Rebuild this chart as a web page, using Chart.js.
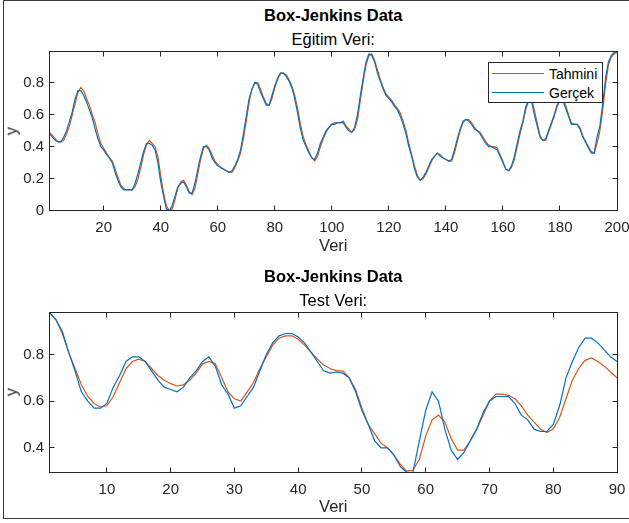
<!DOCTYPE html>
<html>
<head>
<meta charset="utf-8">
<script src="https://cdn.jsdelivr.net/npm/chart.js@4"></script>
<style>
  body { margin: 0; background: #fff; width: 629px; height: 523px; overflow: hidden; position: relative; font-family: "Liberation Sans", Arial, sans-serif; }
  .frame { position: absolute; left: 3px; top: 0; width: 700px; height: 519px; border: 1px solid #3a3a3a; border-right: none; box-sizing: border-box; }
  .panel { position: absolute; left: 0; width: 629px; height: 241px; }
  .txt { position: absolute; left: 49.5px; width: 567.5px; text-align: center; font-size: 16.5px; line-height: 1; white-space: nowrap; color: #000; }
  .bold { font-weight: bold; }
  .axlabel { color: #262626; }
  .ylab { position: absolute; font-size: 16.5px; line-height: 1; color: #262626; transform: rotate(-90deg); transform-origin: center; width: 20px; text-align: center; }
  .legend { position: absolute; left: 488px; top: 62px; width: 115px; height: 41px; border: 1px solid #262626; background: #fff; box-sizing: border-box; font-size: 14px; color: #000; }
  .legend .row { position: absolute; left: 0; height: 16px; width: 113px; }
  .legend .sw { position: absolute; left: 3px; top: 7px; width: 52px; height: 0; border-top: 1.2px solid; }
  .legend .lab { position: absolute; left: 60px; top: 0; line-height: 16px; }
</style>
</head>
<body>
<div class="frame"></div>

<div class="txt bold" style="top:6.5px">Box-Jenkins Data</div>
<div class="txt" style="top:31px">Eğitim Veri:</div>
<div class="panel" style="top:0"><canvas id="trainChart" width="629" height="241"></canvas></div>
<div class="txt axlabel" style="top:237px">Veri</div>
<div class="ylab" style="left:1px; top:123px">y</div>
<div class="legend">
  <div class="row" style="top:3px"><div class="sw" style="border-color:#D95319"></div><div class="lab">Tahmini</div></div>
  <div class="row" style="top:22px"><div class="sw" style="border-color:#0072BD"></div><div class="lab">Gerçek</div></div>
</div>

<div class="txt bold" style="top:267.5px">Box-Jenkins Data</div>
<div class="txt" style="top:292px">Test Veri:</div>
<div class="panel" style="top:262px"><canvas id="testChart" width="629" height="241"></canvas></div>
<div class="txt axlabel" style="top:498px">Veri</div>
<div class="ylab" style="left:1px; top:384px">y</div>

<script>
// Eğitim (training) data, x = 1..200
const trainX = Array.from({ length: 200 }, (_, i) => i + 1);
const trainTahmini = [
  0.49, 0.47, 0.45, 0.43,
  0.43, 0.44, 0.48, 0.53, 0.60, 0.67, 0.74, 0.77, 0.75, 0.70,
  0.66, 0.60, 0.55, 0.48, 0.42, 0.39, 0.36, 0.33, 0.31, 0.26,
  0.21, 0.16, 0.14, 0.13, 0.13, 0.13, 0.15, 0.20, 0.27, 0.35,
  0.41, 0.44, 0.42, 0.40, 0.34, 0.22, 0.11, 0.03, 0.00, 0.01,
  0.07, 0.14, 0.18, 0.19, 0.16, 0.12, 0.10, 0.14, 0.23, 0.32,
  0.39, 0.41, 0.39, 0.35, 0.31, 0.29, 0.27, 0.26, 0.25, 0.24,
  0.24, 0.27, 0.31, 0.36, 0.45, 0.56, 0.68, 0.76, 0.80, 0.80,
  0.76, 0.71, 0.67, 0.66, 0.70, 0.77, 0.82, 0.86, 0.86, 0.85,
  0.82, 0.78, 0.72, 0.64, 0.54, 0.46, 0.41, 0.37, 0.33, 0.31,
  0.34, 0.40, 0.45, 0.49, 0.52, 0.54, 0.55, 0.55, 0.55, 0.56,
  0.53, 0.51, 0.49, 0.51, 0.57, 0.69, 0.81, 0.91, 0.97, 0.98,
  0.94, 0.88, 0.82, 0.77, 0.73, 0.71, 0.69, 0.66, 0.64, 0.61,
  0.56, 0.50, 0.42, 0.35, 0.28, 0.22, 0.19, 0.20, 0.23, 0.27,
  0.31, 0.34, 0.36, 0.35, 0.33, 0.32, 0.31, 0.31, 0.36, 0.43,
  0.50, 0.55, 0.57, 0.57, 0.55, 0.52, 0.50, 0.49, 0.46, 0.43,
  0.41, 0.40, 0.40, 0.39, 0.35, 0.31, 0.26, 0.25, 0.27, 0.32,
  0.40, 0.48, 0.55, 0.63, 0.69, 0.70, 0.63, 0.55, 0.47, 0.44,
  0.44, 0.49, 0.54, 0.59, 0.65, 0.69, 0.70, 0.66, 0.60, 0.55,
  0.54, 0.54, 0.52, 0.47, 0.43, 0.40, 0.37, 0.36, 0.42, 0.50,
  0.63, 0.79, 0.91, 0.96, 0.98, 0.99
];
const trainGercek = [
  0.48, 0.46, 0.44, 0.43,
  0.43, 0.46, 0.50, 0.56, 0.62, 0.70, 0.75, 0.75, 0.72, 0.68,
  0.63, 0.58, 0.51, 0.45, 0.40, 0.38, 0.35, 0.33, 0.30, 0.24,
  0.19, 0.15, 0.13, 0.13, 0.13, 0.13, 0.17, 0.23, 0.30, 0.37,
  0.42, 0.42, 0.41, 0.38, 0.30, 0.18, 0.09, 0.01, 0.00, 0.03,
  0.09, 0.15, 0.17, 0.18, 0.15, 0.11, 0.11, 0.17, 0.26, 0.34,
  0.40, 0.40, 0.38, 0.33, 0.30, 0.28, 0.27, 0.26, 0.25, 0.24,
  0.25, 0.28, 0.32, 0.38, 0.48, 0.59, 0.70, 0.76, 0.80, 0.79,
  0.74, 0.70, 0.66, 0.66, 0.72, 0.78, 0.83, 0.86, 0.86, 0.84,
  0.81, 0.77, 0.70, 0.61, 0.51, 0.44, 0.40, 0.36, 0.33, 0.32,
  0.36, 0.42, 0.46, 0.50, 0.52, 0.54, 0.54, 0.55, 0.55, 0.55,
  0.52, 0.50, 0.49, 0.52, 0.60, 0.72, 0.83, 0.93, 0.98, 0.97,
  0.93, 0.86, 0.81, 0.76, 0.72, 0.70, 0.68, 0.65, 0.63, 0.59,
  0.54, 0.48, 0.40, 0.34, 0.26, 0.21, 0.19, 0.21, 0.24, 0.28,
  0.32, 0.34, 0.36, 0.34, 0.33, 0.32, 0.31, 0.32, 0.38, 0.45,
  0.51, 0.56, 0.57, 0.56, 0.54, 0.51, 0.50, 0.48, 0.45, 0.42,
  0.40, 0.40, 0.39, 0.38, 0.34, 0.30, 0.26, 0.25, 0.28, 0.34,
  0.42, 0.50, 0.56, 0.65, 0.69, 0.69, 0.60, 0.53, 0.46, 0.44,
  0.45, 0.50, 0.55, 0.60, 0.66, 0.69, 0.69, 0.64, 0.59, 0.54,
  0.54, 0.54, 0.51, 0.46, 0.43, 0.39, 0.36, 0.36, 0.46, 0.53,
  0.67, 0.83, 0.93, 0.97, 0.99, 0.995
];
const trainXTicks = [20, 40, 60, 80, 100, 120, 140, 160, 180, 200];
const trainYTicks = [0, 0.2, 0.4, 0.6, 0.8];

// Test data, x = 1..90
const testX = Array.from({ length: 90 }, (_, i) => i + 1);
const testTahmini = [
  0.98, 0.95, 0.89, 0.81, 0.74, 0.67, 0.62, 0.59, 0.575, 0.58,
  0.62, 0.68, 0.74, 0.77, 0.78, 0.77, 0.74, 0.71, 0.69, 0.675,
  0.665, 0.67, 0.69, 0.72, 0.76, 0.77, 0.76, 0.70, 0.64, 0.61,
  0.60, 0.64, 0.68, 0.74, 0.79, 0.84, 0.87, 0.88, 0.88, 0.865,
  0.84, 0.81, 0.78, 0.755, 0.74, 0.73, 0.73, 0.70, 0.65, 0.57,
  0.50, 0.46, 0.42, 0.40, 0.37, 0.33, 0.30, 0.305, 0.35, 0.45,
  0.52, 0.54, 0.51, 0.44, 0.39, 0.39, 0.43, 0.48, 0.54, 0.60,
  0.63, 0.63, 0.625, 0.61, 0.58, 0.54, 0.51, 0.48, 0.465, 0.48,
  0.53, 0.61, 0.69, 0.74, 0.775, 0.785, 0.77, 0.75, 0.725, 0.70
];
const testGercek = [
  0.98, 0.95, 0.90, 0.81, 0.73, 0.64, 0.60, 0.57, 0.57, 0.59,
  0.66, 0.71, 0.77, 0.79, 0.79, 0.77, 0.73, 0.69, 0.66, 0.65,
  0.64, 0.66, 0.70, 0.73, 0.77, 0.79, 0.75, 0.67, 0.63, 0.57,
  0.58, 0.62, 0.66, 0.73, 0.80, 0.85, 0.88, 0.89, 0.89, 0.875,
  0.85, 0.81, 0.77, 0.73, 0.72, 0.725, 0.72, 0.70, 0.64, 0.56,
  0.50, 0.43, 0.40, 0.40, 0.37, 0.32, 0.295, 0.295, 0.43, 0.56,
  0.64, 0.60, 0.48, 0.39, 0.35, 0.38, 0.43, 0.48, 0.55, 0.60,
  0.62, 0.62, 0.62, 0.59, 0.54, 0.52, 0.48, 0.47, 0.47, 0.50,
  0.58, 0.70, 0.77, 0.83, 0.87, 0.87, 0.85, 0.82, 0.79, 0.77
];
const testXTicks = [10, 20, 30, 40, 50, 60, 70, 80, 90];
const testYTicks = [0.4, 0.6, 0.8];

Chart.defaults.font.family = '"Liberation Sans", Arial, sans-serif';
Chart.defaults.font.size = 15;
Chart.defaults.color = '#262626';

// box around the axes with inward tick marks (MATLAB style)
const boxTicks = {
  id: 'boxTicks',
  afterDraw(chart) {
    const { ctx, chartArea } = chart;
    const px = v => Math.round(v - 0.5) + 0.5;
    const l = px(chartArea.left), r = px(chartArea.right);
    const t = px(chartArea.top), b = px(chartArea.bottom);
    ctx.save();
    ctx.strokeStyle = '#262626';
    ctx.lineWidth = 1;
    ctx.beginPath();
    chart.scales.x.ticks.forEach(tk => {
      const x = px(chart.scales.x.getPixelForValue(tk.value));
      ctx.moveTo(x, b); ctx.lineTo(x, b - 5);
      ctx.moveTo(x, t); ctx.lineTo(x, t + 5);
    });
    chart.scales.y.ticks.forEach(tk => {
      const y = px(chart.scales.y.getPixelForValue(tk.value));
      ctx.moveTo(l, y); ctx.lineTo(l + 5, y);
      ctx.moveTo(r, y); ctx.lineTo(r - 5, y);
    });
    ctx.stroke();
    ctx.strokeRect(l, t, r - l, b - t);
    ctx.restore();
  }
};

function makeChart(id, xs, tahmini, gercek, xTicks, yTicks, yMin, yMax, padTop, xHeight) {
  return new Chart(document.getElementById(id), {
    type: 'line',
    data: {
      labels: xs,
      datasets: [
        // first dataset is drawn on top
        { label: 'Gerçek', data: gercek, borderColor: '#0072BD', borderWidth: 1.2, pointRadius: 0, tension: 0 },
        { label: 'Tahmini', data: tahmini, borderColor: '#D95319', borderWidth: 1.2, pointRadius: 0, tension: 0 }
      ]
    },
    options: {
      responsive: false,
      animation: false,
      layout: { padding: { top: padTop, left: 0, right: 12, bottom: 0 } },
      plugins: { legend: { display: false }, tooltip: { enabled: false } },
      scales: {
        x: {
          type: 'linear',
          min: 1,
          max: xs[xs.length - 1],
          grid: { display: false, drawTicks: false },
          border: { display: false },
          ticks: { padding: 8.6, maxRotation: 0, autoSkip: false },
          afterBuildTicks: s => { s.ticks = xTicks.map(v => ({ value: v })); },
          afterFit: s => { s.height = xHeight; s.paddingLeft = 0; s.paddingRight = 0; }
        },
        y: {
          min: yMin,
          max: yMax,
          grid: { display: false, drawTicks: false },
          border: { display: false },
          ticks: { padding: 5.5, callback: v => String(v) },
          afterBuildTicks: s => { s.ticks = yTicks.map(v => ({ value: v })); },
          afterFit: s => { s.width = 49.5; s.paddingTop = 0; s.paddingBottom = 0; }
        }
      }
    },
    plugins: [boxTicks]
  });
}

makeChart('trainChart', trainX, trainTahmini, trainGercek, trainXTicks, trainYTicks, 0, 0.995, 51.5, 30.3);
makeChart('testChart', testX, testTahmini, testGercek, testXTicks, testYTicks, 0.295, 0.98, 50.5, 30.7);
</script>
</body>
</html>
